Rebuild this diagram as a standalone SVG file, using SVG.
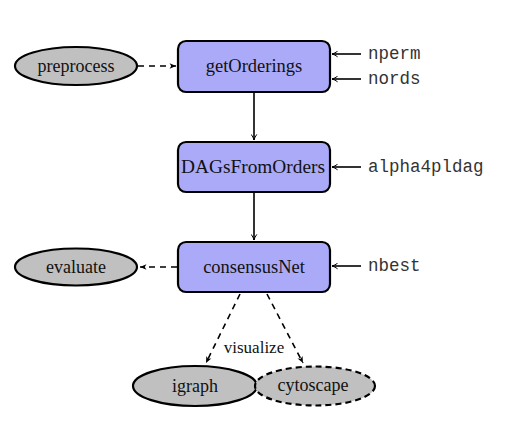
<svg xmlns="http://www.w3.org/2000/svg" width="506" height="429" viewBox="0 0 506 429">
<defs>
<style>
.box{fill:#aaaaf8;stroke:#000;stroke-width:2.2}
.ell{fill:#c0c0c0;stroke:#000;stroke-width:2.2}
.lbl{font-family:"Liberation Serif","Times New Roman",serif;font-size:18.5px;fill:#111;text-anchor:middle}
.par{font-family:"Liberation Mono","Courier New",monospace;font-size:17.5px;fill:#333}
.ln{stroke:#000;stroke-width:1.6;fill:none}
.dash{stroke-dasharray:6,5}
</style>
<marker id="ah" viewBox="0 0 10 10" refX="9" refY="5" markerWidth="7" markerHeight="7" orient="auto" markerUnits="userSpaceOnUse">
<path d="M1,1 Q5,4 9,5 Q5,6 1,9" fill="none" stroke="#000" stroke-width="1.4"/>
</marker>
<marker id="ahd" viewBox="0 0 10 10" refX="9" refY="5" markerWidth="8" markerHeight="8" orient="auto" markerUnits="userSpaceOnUse">
<path d="M1,1.5 L9,5 L1,8.5 L3,5 Z" fill="#000"/>
</marker>
</defs>
<rect width="506" height="429" fill="#fff"/>
<g id="connectors">
<line class="ln dash" x1="138" y1="66" x2="176" y2="66" marker-end="url(#ahd)"/>
<line class="ln" x1="254" y1="93" x2="254" y2="140" marker-end="url(#ah)"/>
<line class="ln" x1="254" y1="193" x2="254" y2="240" marker-end="url(#ah)"/>
<line class="ln dash" x1="177" y1="267" x2="140" y2="267" marker-end="url(#ahd)"/>
<line class="ln dash" x1="240" y1="294" x2="206" y2="363" marker-end="url(#ahd)"/>
<line class="ln dash" x1="267" y1="294" x2="303" y2="363" marker-end="url(#ahd)"/>
<line class="ln" x1="361" y1="54" x2="332" y2="54" marker-end="url(#ah)"/>
<line class="ln" x1="361" y1="79" x2="332" y2="79" marker-end="url(#ah)"/>
<line class="ln" x1="361" y1="167" x2="332" y2="167" marker-end="url(#ah)"/>
<line class="ln" x1="361" y1="266" x2="332" y2="266" marker-end="url(#ah)"/>
<text class="lbl" x="254" y="353" style="font-size:17px">visualize</text>
</g>
<g id="preprocess"><ellipse class="ell" cx="76" cy="66" rx="61" ry="19"/><text class="lbl" x="76" y="71.5" style="font-size:18px">preprocess</text></g>
<g id="getOrderings"><rect class="box" x="178" y="41" width="152" height="51" rx="8"/><text class="lbl" x="254" y="72">getOrderings</text></g>
<g id="DAGsFromOrders"><rect class="box" x="178" y="142" width="152" height="50" rx="8"/><text class="lbl" x="253" y="173" textLength="144" lengthAdjust="spacingAndGlyphs">DAGsFromOrders</text></g>
<g id="consensusNet"><rect class="box" x="178" y="242" width="152" height="50" rx="8"/><text class="lbl" x="254" y="273">consensusNet</text></g>
<g id="evaluate"><ellipse class="ell" cx="76" cy="267" rx="61" ry="18.5"/><text class="lbl" x="76" y="272.5" style="font-size:18px">evaluate</text></g>
<g id="igraph"><ellipse class="ell" cx="195" cy="386" rx="62" ry="20"/><text class="lbl" x="195" y="391.5" style="font-size:18px">igraph</text></g>
<g id="cytoscape"><ellipse class="ell" cx="315" cy="386" rx="60" ry="19.5" style="stroke-dasharray:6,4"/><text class="lbl" x="313" y="391" style="font-size:18px">cytoscape</text></g>
<g id="params">
<text class="par" x="368" y="59">nperm</text>
<text class="par" x="368" y="84">nords</text>
<text class="par" x="368" y="172">alpha4pldag</text>
<text class="par" x="368" y="271">nbest</text>
</g>
</svg>
